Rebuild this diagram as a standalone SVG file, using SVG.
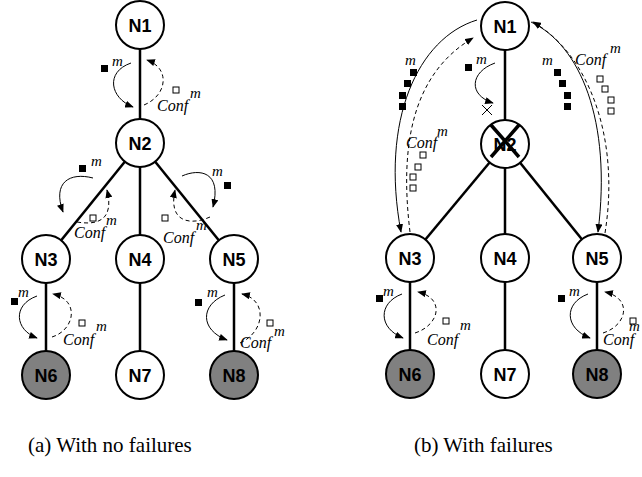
<svg xmlns="http://www.w3.org/2000/svg" width="642" height="477" viewBox="0 0 642 477">
<style>
.edge{stroke:#000;stroke-width:2.5;fill:none}
.node{stroke:#000;stroke-width:2;fill:#fff}
.gray{fill:#808080}
.lbl{font-family:"Liberation Sans",Arial,sans-serif;font-weight:bold;font-size:18px;text-anchor:middle;fill:#000}
.msg{stroke:#000;stroke-width:1;fill:none}
.dash{stroke:#000;stroke-width:1;fill:none;stroke-dasharray:4,3}
.it{font-family:"Liberation Serif","Times New Roman",serif;font-style:italic;font-size:16px;fill:#000}
.sup{font-family:"Liberation Serif","Times New Roman",serif;font-style:italic;font-size:15px;fill:#000}
.fs{fill:#000}
.os{fill:#fff;stroke:#000;stroke-width:1}
.cap{font-family:"Liberation Serif","Times New Roman",serif;font-size:21px;fill:#000}
.cross{stroke:#000;stroke-width:3.5;fill:none}
.xs{stroke:#000;stroke-width:1;fill:none}
</style>
<defs>
<marker id="ah" viewBox="0 0 10 8" refX="9" refY="4" markerWidth="9" markerHeight="7" markerUnits="userSpaceOnUse" orient="auto">
<path d="M0,0 L10,4 L0,8 Z" fill="#000"/>
</marker>
</defs>
<g id="connectors">
<line class="edge" x1="140" y1="25" x2="140" y2="143"/>
<line class="edge" x1="140" y1="143" x2="46" y2="259"/>
<line class="edge" x1="140" y1="143" x2="140" y2="259"/>
<line class="edge" x1="140" y1="143" x2="234" y2="259"/>
<line class="edge" x1="46" y1="259" x2="46" y2="375"/>
<line class="edge" x1="140" y1="259" x2="140" y2="375"/>
<line class="edge" x1="234" y1="259" x2="234" y2="375"/>
<line class="edge" x1="505" y1="26" x2="505" y2="144"/>
<line class="edge" x1="505" y1="144" x2="410" y2="258"/>
<line class="edge" x1="505" y1="144" x2="505" y2="258"/>
<line class="edge" x1="505" y1="144" x2="597" y2="258"/>
<line class="edge" x1="410" y1="258" x2="410" y2="374"/>
<line class="edge" x1="505" y1="258" x2="505" y2="374"/>
<line class="edge" x1="597" y1="258" x2="597" y2="374"/>
<path class="msg" d="M131,63 C105,72 110,98 133,107" marker-end="url(#ah)"/>
<path class="dash" d="M144,105 C168,95 170,68 147,60" marker-end="url(#ah)"/>
<path class="msg" d="M93,178 C70,172 52,182 63,212" marker-end="url(#ah)"/>
<path class="dash" d="M77,222 C100,226 114,218 107,190" marker-end="url(#ah)"/>
<path class="msg" d="M182,176 C200,168 222,172 213,207" marker-end="url(#ah)"/>
<path class="dash" d="M210,217 C190,226 168,222 175,190" marker-end="url(#ah)"/>
<path class="msg" d="M37,296 C12,305 15,330 37,338" marker-end="url(#ah)"/>
<path class="dash" d="M52,337 C75,330 80,300 53,294" marker-end="url(#ah)"/>
<path class="msg" d="M225,295 C200,305 200,330 227,340" marker-end="url(#ah)"/>
<path class="dash" d="M240,343 C265,332 268,300 242,294" marker-end="url(#ah)"/>
<path class="msg" d="M495,63 C470,72 468,95 493,103" marker-end="url(#ah)"/>
<path class="xs" d="M482,105 L492,115 M492,105 L482,115"/>
<path class="msg" d="M477,20 C418,38 380,120 401,232" marker-end="url(#ah)"/>
<path class="dash" d="M410,232 C400,150 410,75 473,38" marker-end="url(#ah)"/>
<path class="msg" d="M531,22 C580,45 612,120 598,232" marker-end="url(#ah)"/>
<path class="dash" d="M605,233 C620,140 590,55 533,22" marker-end="url(#ah)"/>
<path class="msg" d="M402,294 C378,303 378,328 403,338" marker-end="url(#ah)"/>
<path class="dash" d="M415,333 C440,325 445,298 418,292" marker-end="url(#ah)"/>
<path class="msg" d="M588,294 C564,303 564,328 590,338" marker-end="url(#ah)"/>
<path class="dash" d="M603,333 C628,325 632,298 605,292" marker-end="url(#ah)"/>
</g>
<g id="labels-a">
<rect class="fs" x="101" y="65" width="7" height="7"/><text class="sup" x="112" y="66">m</text>
<rect class="os" x="173" y="87" width="6" height="6"/><text class="it" x="157" y="111">Conf</text><text class="sup" x="190" y="98">m</text>
<rect class="fs" x="79" y="165" width="7" height="7"/><text class="sup" x="91" y="166">m</text>
<rect class="os" x="90" y="215" width="6" height="6"/><text class="it" x="74" y="238">Conf</text><text class="sup" x="106" y="225">m</text>
<rect class="fs" x="224" y="182" width="7" height="7"/><text class="sup" x="212" y="176">m</text>
<rect class="os" x="162" y="215" width="6" height="6"/><text class="it" x="163" y="243">Conf</text><text class="sup" x="196" y="230">m</text>
<rect class="fs" x="11" y="298" width="7" height="7"/><text class="sup" x="18" y="297">m</text>
<rect class="os" x="79" y="320" width="6" height="6"/><text class="it" x="63" y="345">Conf</text><text class="sup" x="96" y="331">m</text>
<rect class="fs" x="195" y="299" width="7" height="7"/><text class="sup" x="207" y="297">m</text>
<rect class="os" x="267" y="320" width="6" height="6"/><text class="it" x="240" y="348">Conf</text><text class="sup" x="274" y="336">m</text>
</g>
<g id="labels-b">
<rect class="fs" x="465" y="64" width="7" height="7"/><text class="sup" x="476" y="64">m</text>
<text class="sup" x="405" y="65">m</text>
<rect class="fs" x="410" y="69" width="7" height="7"/>
<rect class="fs" x="404" y="80" width="7" height="7"/>
<rect class="fs" x="399" y="92" width="7" height="7"/>
<rect class="fs" x="399" y="103" width="7" height="7"/>
<text class="sup" x="542" y="65">m</text>
<rect class="fs" x="554" y="69" width="7" height="7"/>
<rect class="fs" x="559" y="80" width="7" height="7"/>
<rect class="fs" x="564" y="92" width="7" height="7"/>
<rect class="fs" x="564" y="103" width="7" height="7"/>
<text class="it" x="406" y="148">Conf</text><text class="sup" x="437" y="136">m</text>
<rect class="os" x="420" y="152" width="6" height="6"/>
<rect class="os" x="415" y="164" width="6" height="6"/>
<rect class="os" x="410" y="174" width="6" height="6"/>
<rect class="os" x="410" y="185" width="6" height="6"/>
<text class="it" x="575" y="65">Conf</text><text class="sup" x="610" y="53">m</text>
<rect class="os" x="597" y="76" width="6" height="6"/>
<rect class="os" x="602" y="86" width="6" height="6"/>
<rect class="os" x="608" y="97" width="6" height="6"/>
<rect class="os" x="608" y="108" width="6" height="6"/>
<rect class="fs" x="376" y="295" width="7" height="7"/><text class="sup" x="383" y="296">m</text>
<rect class="os" x="443" y="318" width="6" height="6"/><text class="it" x="427" y="345">Conf</text><text class="sup" x="460" y="330">m</text>
<rect class="fs" x="558" y="295" width="7" height="7"/><text class="sup" x="569" y="296">m</text>
<rect class="os" x="630" y="318" width="6" height="6"/><text class="it" x="603" y="345">Conf</text><text class="sup" x="629" y="331">m</text>
</g>
<g id="a-N1"><circle class="node" cx="140" cy="25" r="24"/><text class="lbl" x="140" y="32">N1</text></g>
<g id="a-N2"><circle class="node" cx="140" cy="143" r="24"/><text class="lbl" x="140" y="150">N2</text></g>
<g id="a-N3"><circle class="node" cx="46" cy="259" r="24"/><text class="lbl" x="46" y="266">N3</text></g>
<g id="a-N4"><circle class="node" cx="140" cy="259" r="24"/><text class="lbl" x="140" y="266">N4</text></g>
<g id="a-N5"><circle class="node" cx="234" cy="259" r="24"/><text class="lbl" x="234" y="266">N5</text></g>
<g id="a-N6"><circle class="node gray" cx="46" cy="375" r="24"/><text class="lbl" x="46" y="382">N6</text></g>
<g id="a-N7"><circle class="node" cx="140" cy="375" r="24"/><text class="lbl" x="140" y="382">N7</text></g>
<g id="a-N8"><circle class="node gray" cx="234" cy="375" r="24"/><text class="lbl" x="234" y="382">N8</text></g>
<g id="b-N1"><circle class="node" cx="505" cy="26" r="24"/><text class="lbl" x="505" y="33">N1</text></g>
<g id="b-N2"><circle class="node" cx="505" cy="144" r="24"/><text class="lbl" x="505" y="151">N2</text><path class="cross" d="M491,125 L519,157 M519,125 L491,157"/></g>
<g id="b-N3"><circle class="node" cx="410" cy="258" r="24"/><text class="lbl" x="410" y="265">N3</text></g>
<g id="b-N4"><circle class="node" cx="505" cy="258" r="24"/><text class="lbl" x="505" y="265">N4</text></g>
<g id="b-N5"><circle class="node" cx="597" cy="258" r="24"/><text class="lbl" x="597" y="265">N5</text></g>
<g id="b-N6"><circle class="node gray" cx="410" cy="374" r="24"/><text class="lbl" x="410" y="381">N6</text></g>
<g id="b-N7"><circle class="node" cx="505" cy="374" r="24"/><text class="lbl" x="505" y="381">N7</text></g>
<g id="b-N8"><circle class="node gray" cx="597" cy="374" r="24"/><text class="lbl" x="597" y="381">N8</text></g>
<text class="cap" x="28" y="452">(a) With no failures</text>
<text class="cap" x="414" y="452">(b) With failures</text>
</svg>
